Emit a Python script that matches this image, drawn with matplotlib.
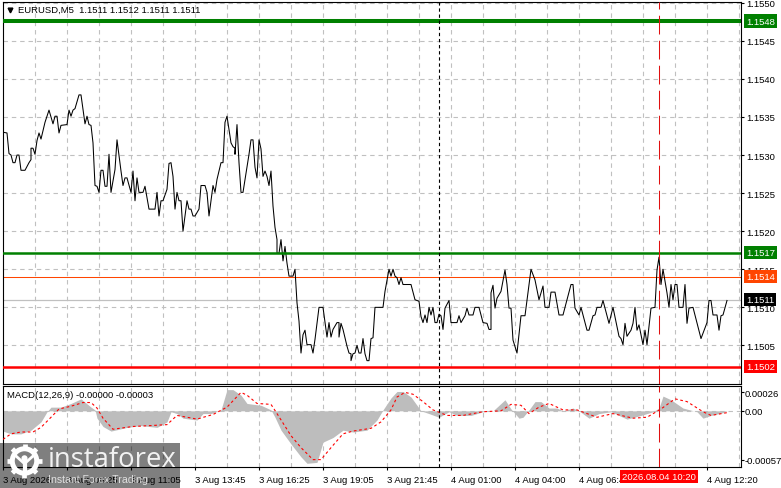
import numpy as np
import matplotlib
matplotlib.use('Agg')
import matplotlib.pyplot as plt
from matplotlib.patches import Rectangle, Circle

W, H = 781, 489
plt.rcParams['font.family'] = ['Liberation Sans', 'DejaVu Sans']

# price line, bar number and price in 1/100000 above 1.15
bars = [0,2,3,4,5,6,7,8,9,11,13,14,14,15,16,17,18,19,21,23,25,26,27,28,29,32,33,34,35,36,38,39,41,42,43,44,45,46,47,48,49,50,51,52,53,54,56,57,59,60,61,62,64,65,66,67,68,70,71,73,76,77,78,79,80,82,83,84,85,86,87,88,89,90,92,93,94,95,96,98,99,101,102,103,105,106,107,109,110,111,112,114,115,116,116,117,118,119,120,123,124,125,126,127,128,129,130,131,132,133,134,135,136,137,137,138,139,140,141,142,143,145,146,147,148,149,150,151,152,154,155,156,158,160,162,163,164,165,167,168,168,169,170,172,173,174,174,175,176,177,178,179,180,181,182,183,184,185,186,190,191,193,194,195,196,197,198,199,200,204,206,208,209,210,211,212,213,214,215,216,217,218,219,220,221,223,224,227,228,229,231,232,233,235,236,238,240,242,243,244,244,245,246,247,249,251,252,253,254,255,257,259,261,263,264,266,268,270,271,273,274,276,278,280,284,285,286,288,289,292,293,295,296,297,299,300,303,305,308,309,310,311,312,314,315,316,317,318,320,321,322,324,326,327,328,329,330,332,333,334,335,336,337,338,340,341,342,343,345,349,352,353,354,355,357,358,359,360,362]
close_pts = [330,329,302,300,290,290,300,300,280,280,290,294,309,309,301,319,329,321,343,359,341,351,351,329,339,340,359,351,359,361,379,379,341,351,340,339,316,260,259,251,280,280,259,259,301,251,281,320,279,260,270,270,251,279,240,270,251,251,259,229,229,251,220,240,240,255,289,290,272,229,251,240,240,200,240,229,229,220,220,229,260,260,251,220,260,251,268,290,290,343,351,316,311,309,301,340,290,251,251,301,320,320,284,270,320,308,272,279,272,260,279,233,205,189,171,171,189,161,180,158,141,141,150,106,82,40,64,70,51,51,40,58,100,100,61,80,61,71,80,80,61,79,71,49,40,39,30,39,40,50,40,40,59,39,30,30,59,60,100,100,121,150,141,150,141,139,130,139,130,130,110,108,88,80,90,80,100,90,100,80,80,91,89,71,99,109,80,80,89,80,89,99,90,90,100,100,80,79,71,71,119,129,99,112,121,149,130,99,99,57,40,89,89,130,150,136,110,128,100,100,120,120,90,90,130,130,99,90,100,70,70,89,90,100,100,109,79,100,62,59,51,79,62,70,79,100,70,77,51,70,51,99,100,149,166,130,150,119,100,130,110,130,130,100,100,130,79,99,100,59,80,109,109,90,90,70,89,90,109]

# MACD pane, same units
hist_bars = [0,4,9,14,19,22,24,29,34,39,44,46,47,50,54,62,69,77,82,84,87,90,97,100,104,109,112,115,119,122,129,134,136,139,144,149,152,157,160,165,170,175,182,187,190,194,197,200,204,207,209,213,218,223,227,234,240,245,251,254,258,260,263,266,269,273,277,280,285,288,293,298,304,312,319,325,328,330,334,340,347,350,354,360,362]
hist_pts = [-22,-25,-25,-21,-12,-1,4,4,8,13,4,1,-8,-17,-22,-18,-16,-18,-12,-1,-3,-8,-10,-3,-3,1,23,23,17,8,6,1,-7,-21,-36,-50,-57,-56,-34,-29,-21,-23,-21,-10,1,14,21,21,15,6,0,-3,-7,-1,-5,-5,-1,0,12,2,-8,-7,1,10,10,3,3,0,3,0,-8,-3,-1,-9,-5,-1,3,16,12,3,-1,-8,-5,-2,0]
signal_bars = [0,4,9,15,19,24,28,34,40,44,47,50,55,65,74,82,87,97,105,112,119,122,127,134,137,144,149,155,159,164,170,175,184,189,194,197,201,205,210,215,222,230,240,249,254,259,263,268,273,280,287,297,305,315,322,329,336,342,350,354,362]
signal_pts = [-31,-25,-23,-23,-18,-7,2,5,9,9,3,-8,-20,-17,-16,-15,-5,-9,-4,4,20,17,8,7,-3,-27,-40,-53,-53,-40,-25,-22,-19,-12,1,15,20,18,10,1,-5,-5,-1,0,7,6,-3,4,8,1,1,-7,-3,-8,-7,2,13,10,-1,-5,-2]

tick_bars = [0,32,64,96,128,160,192,224,256,288,352]
tick_labels = ['3 Aug 2026','3 Aug 08:25','3 Aug 11:05','3 Aug 13:45','3 Aug 16:25','3 Aug 19:05','3 Aug 21:45','4 Aug 01:00','4 Aug 04:00','4 Aug 06:40','4 Aug 12:20']
price_ticks = [1.1505,1.1510,1.1515,1.1520,1.1525,1.1530,1.1535,1.1540,1.1545,1.1550]

close = 1.15 + np.array(close_pts) / 1e5
hist = np.array(hist_pts) / 1e5
signal = np.array(signal_pts) / 1e5


def box(x0, y0, x1, y1):
    # pixel box (y from the top) to figure fractions
    return [x0 / W, 1 - y1 / H, (x1 - x0) / W, (y1 - y0) / H]


fig = plt.figure(figsize=(W / 100, H / 100), dpi=100)
ax = fig.add_axes(box(2.5, 3, 740.5, 384.5))
ax2 = fig.add_axes(box(2.5, 386.5, 740.5, 468))
xlim = (-0.25, 368.75)
GRID = dict(color='#c0c0c0', lw=0.8, ls=(0, (4, 3.5)))
FS = 6.8
VLINE = dict(color='#e01010', lw=0.75, ls=(0, (18, 6)), zorder=4)

# main pane
ax.set_xlim(xlim)
ax.set_ylim(1.15000, 1.15501)
for b in range(16, 369, 16):
    ax.axvline(b, zorder=1, **GRID)
for p in price_ticks:
    ax.axhline(p, zorder=1, **GRID)

ax.plot(bars, close, color='black', lw=0.75, zorder=3)
ax.axhline(1.15476, color='#008000', lw=2.9, zorder=4)
ax.axhline(1.15172, color='#008000', lw=1.8, zorder=4)
ax.axhline(1.15022, color='#ff0000', lw=1.8, zorder=4)
ax.axhline(1.15140, color='#ff4500', lw=0.75, zorder=2)
ax.axhline(1.15110, color='#c0c0c0', lw=0.9, zorder=2)
ax.axvline(218, color='black', lw=0.8, ls=(0, (3, 2.5)), zorder=4)
ax.axvline(328, **VLINE)

ax.set_xticks([])
ax.yaxis.tick_right()
ax.set_yticks(price_ticks, [f'{p:.4f}' for p in price_ticks], fontsize=FS, color='black')
ax.tick_params(axis='y', length=2.5, width=0.8, pad=2)

fig.text(18 / W, 1 - 10.5 / H, 'EURUSD,M5  1.1511 1.1512 1.1511 1.1511', fontsize=FS, va='center', ha='left', zorder=9)
ax.plot([10 / W], [1 - 10.5 / H], marker='v', color='black', ms=3.4, transform=fig.transFigure, clip_on=False, zorder=9)

# coloured price tags on the right
tags = [(1.15476, '1.1548', '#008000'), (1.15172, '1.1517', '#008000'),
        (1.15140, '1.1514', '#ff4500'), (1.15110, '1.1511', '#000000'),
        (1.15022, '1.1502', '#ff0000')]
for p, txt, col in tags:
    ax.annotate(txt, xy=(1, p), xycoords=('axes fraction', 'data'), xytext=(4.0, 0),
                textcoords='offset points', fontsize=FS, color='white', va='center', ha='left',
                annotation_clip=False, zorder=10,
                bbox=dict(fc=col, ec='none', boxstyle='square,pad=0.22'))

# MACD pane
ax2.set_xlim(xlim)
ax2.set_ylim(-0.00061, 0.000275)
for b in range(16, 369, 16):
    ax2.axvline(b, zorder=1, **GRID)
ax2.axhline(0, zorder=1, **GRID)
ax2.fill_between(hist_bars, hist, 0, color='#bdbdbd', lw=0, zorder=2)
ax2.plot(signal_bars, signal, color='#ff0000', lw=0.8, ls=(0, (2.4, 2.4)), zorder=3)
ax2.axvline(218, color='black', lw=0.8, ls=(0, (3, 2.5)), zorder=4)
ax2.axvline(328, **VLINE)

ax2.yaxis.tick_right()
ax2.set_yticks([0.00020, 0, -0.00053], ['0.00026', '0.00', '-0.00057'], fontsize=FS)
ax2.tick_params(axis='y', length=2, width=0.8, pad=0.8)
ax2.set_xticks(tick_bars)
ax2.set_xticklabels(tick_labels, fontsize=FS, ha='left')
ax2.tick_params(axis='x', length=2.5, width=0.8, pad=3)
ax2.text(7 / W, 1 - 395.5 / H, 'MACD(12,26,9) -0.00000 -0.00003', transform=fig.transFigure,
         fontsize=FS, va='center', ha='left', zorder=9)

for a in (ax, ax2):
    for s in a.spines.values():
        s.set_linewidth(0.8)

# red date label on the axis
fig.text(659 / W, 1 - 477.5 / H, '2026.08.04 10:20', fontsize=FS, color='white', ha='center', va='center',
         zorder=20, bbox=dict(fc='#ff0000', ec='none', pad=1.8))

# watermark
fig.patches.append(Rectangle((0, 0), 180 / W, 45 / H, transform=fig.transFigure,
                             fc='black', alpha=0.5, ec='none', zorder=15))
gear = fig.add_axes(box(6.5, 444, 42.5, 480), zorder=16)
gear.set_xlim(-1, 1)
gear.set_ylim(-1, 1)
gear.axis('off')
gear.patch.set_alpha(0)
for ang in np.arange(0, 360, 45):
    gear.plot([0.62 * np.cos(np.radians(ang)), 0.95 * np.cos(np.radians(ang))],
              [0.62 * np.sin(np.radians(ang)), 0.95 * np.sin(np.radians(ang))], color='white', lw=3.4,
              solid_capstyle='butt')
gear.add_patch(Circle((0, 0), 0.68, fc='none', ec='white', lw=3.6))
gear.add_patch(Circle((0, 0.15), 0.17, fc='white', ec='none'))
gear.plot([0, 0], [-0.62, 0.0], color='white', lw=3)
gear.plot([-0.5, 0, 0.5], [0.3, -0.15, 0.3], color='white', lw=2)
fig.text(47.5 / W, 1 - 460 / H, 'instaforex', fontsize=19.8, color='white', alpha=0.9, ha='left', va='center',
         zorder=17, family='Open Sans')
fig.text(48 / W, 1 - 480 / H, 'Instant Forex Trading', fontsize=7.6, color='white', alpha=0.75, ha='left', va='center',
         zorder=17)

fig.savefig('out.png', dpi=100, facecolor='white')
